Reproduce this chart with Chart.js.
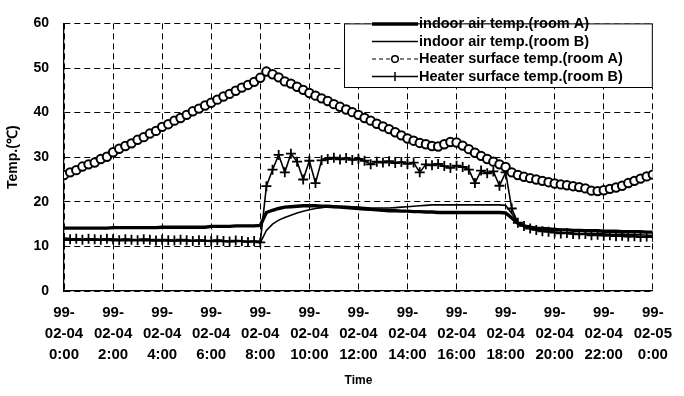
<!DOCTYPE html>
<html>
<head>
<meta charset="utf-8">
<script src="https://cdn.jsdelivr.net/npm/chart.js@4.4.1/dist/chart.umd.min.js"></script>
<style>
  body { margin: 0; background: #fff; }
  #wrap { width: 684px; height: 396px; }
</style>
</head>
<body>
<div id="wrap"><canvas id="chartTemp" width="684" height="396"></canvas></div>
<script>
// time of each sample, hours from 99-02-04 0:00
const hours = [
  0, 0.25, 0.5, 0.75, 1, 1.25, 1.5, 1.75, 2, 2.25, 2.5, 2.75, 3, 3.25, 3.5, 3.75,
  4, 4.25, 4.5, 4.75, 5, 5.25, 5.5, 5.75, 6, 6.25, 6.5, 6.75, 7, 7.25, 7.5, 7.75,
  8, 8.25, 8.5, 8.75, 9, 9.25, 9.5, 9.75, 10, 10.25, 10.5, 10.75, 11, 11.25, 11.5, 11.75,
  12, 12.25, 12.5, 12.75, 13, 13.25, 13.5, 13.75, 14, 14.25, 14.5, 14.75, 15, 15.25, 15.5, 15.75,
  16, 16.25, 16.5, 16.75, 17, 17.25, 17.5, 17.75, 18, 18.25, 18.5, 18.75, 19, 19.25, 19.5, 19.75,
  20, 20.25, 20.5, 20.75, 21, 21.25, 21.5, 21.75, 22, 22.25, 22.5, 22.75, 23, 23.25, 23.5, 23.75,
  24
];

const indoorA = [
  14.1, 14.1, 14.1, 14.1, 14.1, 14.1, 14.1, 14.1,
  14.2, 14.2, 14.2, 14.2, 14.2, 14.2, 14.2, 14.2,
  14.3, 14.3, 14.3, 14.3, 14.3, 14.3, 14.3, 14.3,
  14.5, 14.5, 14.5, 14.5, 14.6, 14.6, 14.6, 14.6,
  14.7, 17.6, 18.1, 18.5, 18.8, 18.9, 19.0, 19.1,
  19.1, 19.1, 19.0, 19.0, 18.9, 18.8, 18.7, 18.6,
  18.5, 18.4, 18.3, 18.2, 18.1, 18.0, 18.0, 17.9,
  17.9, 17.8, 17.8, 17.7, 17.7, 17.6, 17.6, 17.6,
  17.6, 17.6, 17.6, 17.6, 17.6, 17.6, 17.6, 17.6,
  17.5, 16.4, 15.2, 14.6, 14.3, 14.1, 14.0, 13.9,
  13.8, 13.7, 13.7, 13.6, 13.6, 13.5, 13.5, 13.5,
  13.4, 13.4, 13.4, 13.3, 13.3, 13.3, 13.3, 13.2,
  13.2
];

const indoorB = [
  11.4, 11.4, 11.4, 11.4, 11.4, 11.4, 11.4, 11.4,
  11.3, 11.3, 11.3, 11.3, 11.3, 11.3, 11.3, 11.3,
  11.2, 11.2, 11.2, 11.2, 11.2, 11.2, 11.2, 11.2,
  11.1, 11.1, 11.1, 11.1, 11.1, 11.1, 11.1, 11.1,
  10.8, 13.6, 15.0, 15.9, 16.5, 17.0, 17.5, 17.9,
  18.2, 18.5, 18.7, 18.9, 19.0, 19.0, 19.0, 18.9,
  18.8, 18.7, 18.6, 18.6, 18.6, 18.6, 18.7, 18.8,
  18.9, 19.0, 19.1, 19.2, 19.3, 19.3, 19.3, 19.3,
  19.3, 19.3, 19.3, 19.3, 19.3, 19.3, 19.3, 19.3,
  19.2, 17.4, 15.4, 14.4, 14.0, 13.7, 13.5, 13.3,
  13.2, 13.1, 13.0, 13.0, 12.9, 12.9, 12.8, 12.8,
  12.8, 12.7, 12.7, 12.7, 12.6, 12.6, 12.6, 12.5,
  12.5
];

const heaterA = [
  26.0, 26.6, 27.1, 27.9, 28.4, 28.8, 29.6, 30.1,
  31.1, 31.9, 32.5, 33.1, 33.9, 34.5, 35.3, 35.9,
  36.8, 37.4, 38.2, 38.8, 39.5, 40.3, 40.9, 41.6,
  42.2, 42.9, 43.6, 44.2, 44.9, 45.6, 46.2, 46.9,
  47.8, 49.2, 48.6, 47.9, 47.0, 46.5, 45.8, 45.1,
  44.4, 43.8, 43.2, 42.6, 41.9, 41.3, 40.7, 40.1,
  39.5, 38.8, 38.2, 37.5, 36.9, 36.3, 35.6, 34.9,
  34.2, 33.7, 33.2, 32.9, 32.5, 32.4, 32.9, 33.4,
  33.3, 32.6, 31.8, 31.0, 30.3, 29.6, 29.0, 28.4,
  27.8, 26.6, 26.0, 25.6, 25.3, 25.0, 24.7, 24.4,
  24.1, 23.9, 23.7, 23.5, 23.3, 23.0, 22.5, 22.4,
  22.6, 22.9, 23.2, 23.6, 24.2, 24.7, 25.2, 25.7,
  26.1
];

const heaterB = [
  11.8, 11.6, 11.7, 11.5, 11.7, 11.6, 11.5, 11.7,
  11.6, 11.4, 11.6, 11.5, 11.4, 11.6, 11.5, 11.3,
  11.5, 11.4, 11.3, 11.5, 11.4, 11.2, 11.4, 11.3,
  11.2, 11.4, 11.2, 11.1, 11.3, 11.2, 11.0, 11.2,
  10.9, 23.5, 27.2, 30.5, 26.6, 30.8, 29.0, 25.0,
  29.2, 24.2, 29.3, 29.6, 29.9, 29.5, 29.8, 29.4,
  29.6, 29.2, 28.4, 29.0, 28.8, 29.1, 28.7, 28.9,
  28.5, 28.8, 26.6, 28.4, 28.2, 28.5, 28.0, 27.6,
  28.1, 27.8, 27.2, 24.2, 27.0, 26.4, 26.8, 23.6,
  26.6, 18.5, 15.3, 14.6, 14.0, 13.7, 13.4, 13.3,
  13.1, 12.9, 13.0, 12.8, 12.7, 12.8, 12.5, 12.6,
  12.4, 12.5, 12.3, 12.4, 12.2, 12.3, 12.1, 12.2,
  12.1
];

const seriesNames = [
  'indoor air temp.(room A)',
  'indoor air temp.(room B)',
  'Heater surface temp.(room A)',
  'Heater surface temp.(room B)'
];

const tickHours = [0, 2, 4, 6, 8, 10, 12, 14, 16, 18, 20, 22, 24];
const tickLabels = [
  ['99-', '02-04', '0:00'], ['99-', '02-04', '2:00'], ['99-', '02-04', '4:00'],
  ['99-', '02-04', '6:00'], ['99-', '02-04', '8:00'], ['99-', '02-04', '10:00'],
  ['99-', '02-04', '12:00'], ['99-', '02-04', '14:00'], ['99-', '02-04', '16:00'],
  ['99-', '02-04', '18:00'], ['99-', '02-04', '20:00'], ['99-', '02-04', '22:00'],
  ['99-', '02-05', '0:00']
];

const FONT = "'Liberation Sans', Arial, sans-serif";

function pts(values) {
  return hours.map((h, i) => ({ x: h, y: values[i] }));
}

// legend drawn inside the plot, top right, with line + marker samples
const insideLegend = {
  id: 'insideLegend',
  afterDatasetsDraw(chart) {
    const ctx = chart.ctx;
    const area = chart.chartArea;
    const left = 344, top = area.top, right = area.right, bottom = 88;
    ctx.save();
    ctx.fillStyle = '#fff';
    ctx.fillRect(left, top, right - left, bottom - top);
    ctx.strokeStyle = '#000';
    ctx.lineWidth = 1;
    ctx.strokeRect(left + 0.5, top + 0.5, right - left - 1, bottom - top - 1);

    const rows = [24, 41.5, 59, 76.5];
    chart.data.datasets.forEach((ds, i) => {
      const y = rows[i];
      ctx.save();
      ctx.strokeStyle = '#000';
      ctx.lineWidth = ds.borderWidth;
      ctx.setLineDash(ds.borderDash || []);
      ctx.beginPath();
      ctx.moveTo(372, y);
      ctx.lineTo(418, y);
      ctx.stroke();
      ctx.setLineDash([]);
      if (ds.pointRadius > 0) {
        ctx.lineWidth = 1.5;
        ctx.beginPath();
        if (ds.pointStyle === 'circle') {
          ctx.fillStyle = '#fff';
          ctx.arc(395, y, 3.3, 0, Math.PI * 2);
          ctx.fill();
        } else {
          ctx.moveTo(395, y - 4.5);
          ctx.lineTo(395, y + 4.5);
        }
        ctx.stroke();
      }
      ctx.restore();
      ctx.fillStyle = '#000';
      ctx.font = 'bold 14.5px ' + FONT;
      ctx.textAlign = 'left';
      ctx.textBaseline = 'middle';
      ctx.fillText(ds.label, 419, y);
    });
    ctx.restore();
  }
};

const ctx = document.getElementById('chartTemp').getContext('2d');
const chartTemp = new Chart(ctx, {
  type: 'line',
  data: {
    datasets: [
      {
        label: seriesNames[0],
        data: pts(indoorA),
        borderColor: '#000',
        borderWidth: 3.4,
        pointRadius: 0
      },
      {
        label: seriesNames[1],
        data: pts(indoorB),
        borderColor: '#000',
        borderWidth: 1.6,
        pointRadius: 0
      },
      {
        label: seriesNames[2],
        data: pts(heaterA),
        borderColor: '#000',
        borderWidth: 1.2,
        borderDash: [4, 3],
        pointStyle: 'circle',
        pointRadius: 4.2,
        pointBorderWidth: 2,
        pointBorderColor: '#000',
        pointBackgroundColor: '#fff'
      },
      {
        label: seriesNames[3],
        data: pts(heaterB),
        borderColor: '#000',
        borderWidth: 1.6,
        pointStyle: 'cross',
        pointRadius: 5,
        pointBorderWidth: 1.8,
        pointBorderColor: '#000'
      }
    ]
  },
  options: {
    responsive: false,
    animation: false,
    layout: { padding: { left: 0, right: 22, top: 14, bottom: 0 } },
    plugins: {
      legend: { display: false },
      tooltip: { enabled: false }
    },
    scales: {
      x: {
        type: 'linear',
        min: 0,
        max: 24,
        afterBuildTicks: s => { s.ticks = tickHours.map(v => ({ value: v })); },
        afterFit: s => { s.height = 105; },
        ticks: {
          callback: (v, i) => tickLabels[i],
          autoSkip: false,
          maxRotation: 0,
          padding: 12,
          color: '#000',
          font: { family: FONT, size: 15, weight: 'bold', lineHeight: 1.37 }
        },
        grid: { color: '#000', lineWidth: 1, drawTicks: false },
        border: { display: true, color: '#000', width: 1.3, dash: [6, 4] },
        title: {
          display: true,
          text: 'Time',
          color: '#000',
          font: { family: FONT, size: 12, weight: 'bold' },
          padding: { top: 0, bottom: 8 }
        }
      },
      y: {
        min: 0,
        max: 60,
        afterFit: s => { s.width = 64; },
        ticks: {
          stepSize: 10,
          padding: 15,
          color: '#000',
          font: { family: FONT, size: 14, weight: 'bold' }
        },
        grid: { color: '#000', lineWidth: 1, drawTicks: false },
        border: { display: true, color: '#000', width: 1.3, dash: [6, 4] },
        title: {
          display: true,
          text: 'Temp.(℃)',
          color: '#000',
          font: { family: FONT, size: 14, weight: 'bold' },
          padding: { top: 5, bottom: 0 }
        }
      }
    }
  },
  plugins: [insideLegend]
});
</script>
</body>
</html>
